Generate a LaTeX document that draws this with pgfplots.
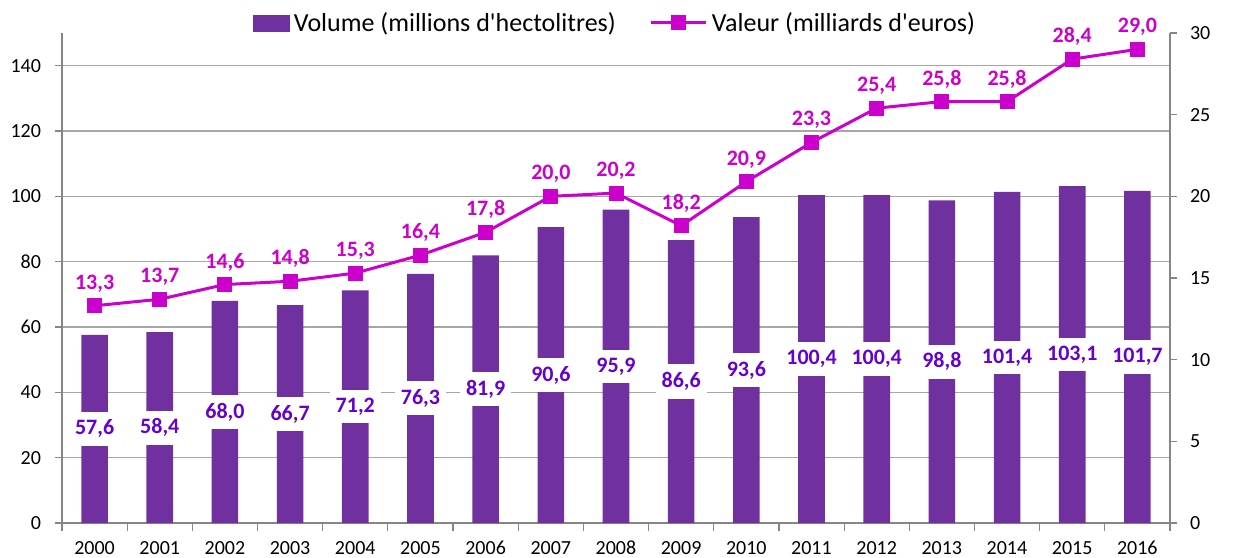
\documentclass[border=0pt]{standalone}
\usepackage{pgfplots}
\pgfplotsset{compat=1.18}
\usepackage{pgfplotstable}
\usepackage{fontspec}
\setmainfont{Carlito}

\definecolor{barc}{RGB}{112,48,160}
\definecolor{barlab}{RGB}{102,0,204}
\definecolor{linec}{RGB}{204,0,204}
\definecolor{axgray}{RGB}{134,134,134}
\definecolor{gridgray}{RGB}{166,166,166}

% annee, volume (millions hl), valeur (milliards EUR)
\pgfplotstableread{
an   vol    val
2000 57.6   13.3
2001 58.4   13.7
2002 68.0   14.6
2003 66.7   14.8
2004 71.2   15.3
2005 76.3   16.4
2006 81.9   17.8
2007 90.6   20.0
2008 95.9   20.2
2009 86.6   18.2
2010 93.6   20.9
2011 100.4  23.3
2012 100.4  25.4
2013 98.8   25.8
2014 101.4  25.8
2015 103.1  28.4
2016 101.7  29.0
}\donnees

\tikzset{
  etiq/.style={
    /pgf/number format/fixed, /pgf/number format/fixed zerofill,
    /pgf/number format/precision=1, /pgf/number format/use comma,
    /pgf/number format/1000 sep={}
  },
}

\pgfplotsset{
  commun/.style={
    width=554pt, height=245pt, scale only axis,
    xmin=1999.5, xmax=2016.5,
    font=\fontsize{10}{12}\selectfont,
    /pgf/number format/assume math mode=true,
    /pgf/number format/1000 sep={},
    axis line style={axgray, line width=0.6pt},
    every tick/.style={axgray, line width=0.6pt},
    tick align=outside,
    major tick length=3.5pt,
  },
  ligneleg/.style={
    legend image code/.code={\draw[mark repeat=2, mark phase=2, ##1] plot coordinates {(0pt,0pt) (13.75pt,0pt) (27.5pt,0pt)};}
  },
  barreleg/.style={
    legend image code/.code={\fill[barc] (0pt,-4pt) rectangle (18pt,4pt);}
  },
}

\begin{document}
\begin{tikzpicture}
% volume (axe gauche)
\begin{axis}[
  commun,
  ymin=0, ymax=150,
  ytick={0,20,...,140},
  axis x line*=bottom,
  axis y line*=left,
  xtick={2000,...,2016},
  major x tick style={draw=none},
  minor xtick={1999.5,2000.5,...,2016.5},
  minor x tick style={axgray, line width=0.6pt},
  minor tick length=4pt,
  ymajorgrids,
  grid style={gridgray, line width=0.6pt},
  xticklabel style={yshift=-2pt},
  yticklabel style={xshift=-3.5pt},
]
\addplot[ybar, bar width=13.3pt, fill=barc, draw=none] table[x=an, y=vol] {\donnees};
\addplot[draw=none, nodes near coords, point meta=explicit,
  every node near coord/.style={anchor=center, fill=white, text=barlab,
    font=\fontsize{11}{13}\selectfont\bfseries, inner xsep=3pt, inner ysep=4pt, etiq}]
  table[x=an, y expr=\thisrow{vol}/2, meta=vol] {\donnees};
\end{axis}

% valeur (axe droit)
\begin{axis}[
  commun,
  ymin=0, ymax=30,
  ytick={0,5,...,30},
  axis x line=none,
  axis y line*=right,
  yticklabel style={xshift=3pt},
  legend columns=2,
  legend style={at={(0.5,1)}, anchor=center, yshift=5pt, draw=none, fill=none,
    font=\fontsize{13}{15}\selectfont, inner sep=0pt,
    /tikz/every even column/.append style={column sep=15pt},
    nodes={inner xsep=2pt}},
]
\addlegendimage{barreleg}
\addlegendentry{Volume (millions d\textquotesingle hectolitres)}
\addplot[linec, line width=1.5pt, mark=square*, mark size=3pt, ligneleg,
  nodes near coords,
  every node near coord/.style={anchor=south, yshift=5pt, text=linec,
    font=\fontsize{11}{13}\selectfont\bfseries, inner sep=1pt, etiq}]
  table[x=an, y=val] {\donnees};
\addlegendentry{Valeur (milliards d\textquotesingle euros)}
\end{axis}

\pgfresetboundingbox
\path[use as bounding box] (-31pt,-17pt) rectangle (586.5pt,261.5pt);
\end{tikzpicture}
\end{document}
